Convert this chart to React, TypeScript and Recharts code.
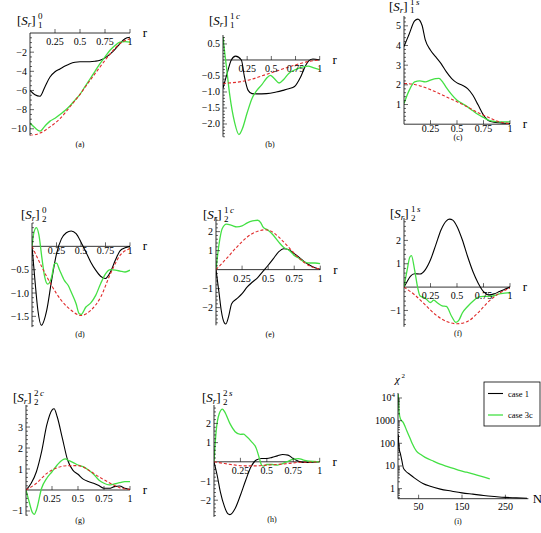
import React from "react";
import { LineChart, Line, XAxis, YAxis, ReferenceLine, ReferenceDot } from "recharts";

const FONT = "'Liberation Serif', 'DejaVu Serif', serif";
const BLACK = "#000000";
const GREEN = "#44e044";
const RED = "#e02a2a";

type Pt = [number, number];

// ---- panel (a) [S_r]_1^0
const aCase1: Pt[] = [[0, -6.0], [0.05, -6.45], [0.1, -6.6], [0.15, -5.6], [0.2, -4.6], [0.25, -4.05], [0.3, -3.75], [0.35, -3.45], [0.4, -3.2], [0.45, -3.05], [0.5, -3.0], [0.55, -3.0], [0.6, -3.0], [0.65, -2.95], [0.7, -2.85], [0.75, -2.6], [0.8, -2.2], [0.85, -1.7], [0.9, -1.1], [0.95, -0.6], [1, -0.45]];
const aCase3c: Pt[] = [[0, -9.4], [0.05, -9.9], [0.1, -10.25], [0.15, -9.7], [0.2, -9.2], [0.25, -8.9], [0.3, -8.5], [0.35, -8.1], [0.4, -7.6], [0.45, -7.0], [0.5, -6.4], [0.55, -5.6], [0.6, -4.8], [0.65, -4.0], [0.7, -3.2], [0.75, -2.5], [0.8, -1.8], [0.85, -1.3], [0.9, -0.95], [0.95, -0.9], [1, -0.95]];
const aModel: Pt[] = [[0, -10.7], [0.1, -10.45], [0.2, -9.8], [0.3, -8.95], [0.4, -7.7], [0.5, -6.4], [0.6, -4.95], [0.7, -3.55], [0.8, -2.2], [0.9, -1.1], [1, -0.6]];

// ---- panel (b) [S_r]_1^{1c}
const bCase1: Pt[] = [[0, -0.88], [0.04, -0.45], [0.086, 0], [0.13, 0.12], [0.19, 0], [0.22, -0.5], [0.26, -0.95], [0.3, -1.05], [0.35, -1.06], [0.45, -1.05], [0.55, -1.0], [0.62, -0.95], [0.68, -0.9], [0.74, -0.83], [0.8, -0.55], [0.85, -0.2], [0.89, -0.02], [0.93, 0.03], [1, 0]];
const bCase3c: Pt[] = [[0, 0.72], [0.015, 0.3], [0.035, -0.2], [0.07, -1.1], [0.12, -1.95], [0.165, -2.33], [0.2, -2.15], [0.25, -1.65], [0.3, -1.2], [0.35, -0.95], [0.4, -0.78], [0.45, -0.57], [0.49, -0.48], [0.53, -0.58], [0.58, -0.72], [0.63, -0.6], [0.68, -0.42], [0.75, -0.3], [0.82, -0.22], [0.88, -0.19], [0.94, -0.25], [1, -0.3]];
const bModel: Pt[] = [[0, -0.73], [0.1, -0.71], [0.2, -0.67], [0.3, -0.6], [0.4, -0.5], [0.5, -0.4], [0.6, -0.3], [0.7, -0.2], [0.8, -0.11], [0.9, -0.04], [1, 0]];

// ---- panel (c) [S_r]_1^{1s}
const cCase1: Pt[] = [[0, 3.95], [0.05, 4.6], [0.1, 5.25], [0.13, 5.34], [0.17, 5.03], [0.2, 4.3], [0.25, 3.76], [0.3, 3.42], [0.35, 3.08], [0.4, 2.66], [0.45, 2.32], [0.5, 2.1], [0.55, 1.98], [0.6, 1.81], [0.65, 1.47], [0.7, 0.97], [0.75, 0.46], [0.8, 0.17], [0.85, 0.1], [0.9, 0.07], [0.95, 0.05], [1, 0.03]];
const cCase3c: Pt[] = [[0, 1.05], [0.05, 1.73], [0.1, 2.15], [0.15, 2.2], [0.2, 2.15], [0.25, 2.24], [0.3, 2.32], [0.33, 2.33], [0.37, 2.1], [0.4, 1.86], [0.45, 1.5], [0.5, 1.22], [0.55, 1.05], [0.6, 0.88], [0.65, 0.68], [0.7, 0.49], [0.75, 0.34], [0.8, 0.2], [0.85, 0.14], [0.9, 0.12], [0.95, 0.12], [1, 0.12]];
const cModel: Pt[] = [[0, 2.07], [0.1, 2.02], [0.2, 1.86], [0.3, 1.64], [0.4, 1.39], [0.5, 1.14], [0.6, 0.88], [0.7, 0.58], [0.8, 0.34], [0.9, 0.12], [1, 0.03]];

// ---- panel (d) [S_r]_2^0
const dCase1: Pt[] = [[0, 0], [0.03, -0.73], [0.06, -1.37], [0.095, -1.69], [0.15, -1.37], [0.2, -0.73], [0.25, -0.16], [0.3, 0.16], [0.35, 0.29], [0.4, 0.33], [0.45, 0.27], [0.5, 0.09], [0.55, -0.12], [0.6, -0.34], [0.65, -0.51], [0.7, -0.64], [0.75, -0.69], [0.8, -0.55], [0.85, -0.3], [0.9, -0.09], [0.95, -0.03], [1, 0]];
const dCase3c: Pt[] = [[0, 0.0], [0.02, 0.3], [0.045, 0.4], [0.07, 0.25], [0.1, -0.23], [0.13, -0.66], [0.16, -0.81], [0.2, -0.66], [0.23, -0.37], [0.25, -0.36], [0.28, -0.5], [0.33, -0.73], [0.37, -0.84], [0.4, -0.98], [0.45, -1.23], [0.48, -1.44], [0.5, -1.46], [0.55, -1.3], [0.6, -1.21], [0.65, -1.05], [0.7, -0.8], [0.75, -0.59], [0.8, -0.5], [0.85, -0.51], [0.9, -0.53], [0.95, -0.55], [1, -0.51]];
const dModel: Pt[] = [[0, 0], [0.1, -0.44], [0.2, -0.84], [0.3, -1.16], [0.4, -1.37], [0.5, -1.48], [0.6, -1.37], [0.7, -1.09], [0.8, -0.59], [0.9, -0.19], [1, -0.05]];

// ---- panel (e) [S_r]_2^{1c}
const eCase1: Pt[] = [[0, 0], [0.03, -1.26], [0.05, -2.14], [0.08, -2.8], [0.095, -2.86], [0.12, -2.49], [0.15, -1.79], [0.2, -1.53], [0.25, -1.26], [0.3, -0.91], [0.35, -0.65], [0.4, -0.42], [0.45, -0.09], [0.5, 0.23], [0.55, 0.58], [0.6, 0.93], [0.65, 1.1], [0.7, 1.05], [0.75, 0.84], [0.8, 0.63], [0.85, 0.4], [0.9, 0.23], [0.95, 0.1], [1, 0.02]];
const eCase3c: Pt[] = [[0, 0], [0.03, 1.37], [0.06, 2.16], [0.1, 2.39], [0.15, 2.33], [0.2, 2.25], [0.25, 2.3], [0.3, 2.46], [0.35, 2.56], [0.4, 2.6], [0.43, 2.46], [0.45, 2.25], [0.5, 2.07], [0.55, 1.81], [0.6, 1.46], [0.65, 1.16], [0.7, 1.02], [0.75, 0.75], [0.8, 0.58], [0.85, 0.4], [0.9, 0.35], [0.95, 0.35], [1, 0.32]];
const eModel: Pt[] = [[0, 0], [0.1, 0.58], [0.2, 1.19], [0.3, 1.72], [0.4, 2.02], [0.47, 2.1], [0.55, 1.95], [0.6, 1.72], [0.7, 1.16], [0.8, 0.58], [0.9, 0.19], [1, 0.02]];

// ---- panel (f) [S_r]_2^{1s}
const fCase1: Pt[] = [[0, 0], [0.03, 0.24], [0.06, 0.46], [0.1, 0.57], [0.15, 0.56], [0.2, 0.74], [0.25, 1.17], [0.3, 1.81], [0.35, 2.46], [0.4, 2.84], [0.43, 2.91], [0.46, 2.87], [0.5, 2.6], [0.55, 2.03], [0.6, 1.31], [0.65, 0.67], [0.7, 0.17], [0.75, -0.19], [0.8, -0.33], [0.85, -0.29], [0.9, -0.19], [0.95, -0.09], [1, 0]];
const fCase3c: Pt[] = [[0, 0], [0.03, 0.74], [0.055, 1.29], [0.07, 1.35], [0.1, 0.74], [0.13, -0.04], [0.15, -0.37], [0.2, -0.47], [0.25, -0.66], [0.28, -0.56], [0.32, -0.69], [0.36, -0.8], [0.4, -0.83], [0.45, -1.26], [0.49, -1.51], [0.52, -1.4], [0.55, -1.11], [0.6, -0.83], [0.65, -0.61], [0.7, -0.43], [0.75, -0.4], [0.8, -0.4], [0.85, -0.37], [0.9, -0.29], [0.95, -0.26], [1, -0.23]];
const fModel: Pt[] = [[0, 0], [0.1, -0.33], [0.2, -0.76], [0.3, -1.19], [0.4, -1.47], [0.5, -1.57], [0.6, -1.47], [0.7, -1.09], [0.8, -0.61], [0.9, -0.26], [1, -0.04]];

// ---- panel (g) [S_r]_2^{2c}
const gCase1: Pt[] = [[0, 0], [0.05, 0.32], [0.1, 0.87], [0.15, 1.83], [0.2, 3.1], [0.25, 3.81], [0.27, 3.87], [0.3, 3.49], [0.35, 2.46], [0.4, 1.43], [0.45, 0.95], [0.5, 0.75], [0.55, 0.52], [0.6, 0.4], [0.65, 0.32], [0.7, 0.21], [0.75, 0.08], [0.8, 0.08], [0.85, 0.16], [0.9, 0.19], [0.95, 0.08], [1, 0.02]];
const gCase3c: Pt[] = [[0, 0], [0.03, -0.56], [0.06, -1.06], [0.08, -1.16], [0.1, -0.95], [0.15, 0.08], [0.2, 0.56], [0.25, 0.87], [0.3, 1.19], [0.35, 1.43], [0.38, 1.48], [0.4, 1.43], [0.45, 1.32], [0.5, 1.19], [0.55, 1.11], [0.6, 0.95], [0.65, 0.75], [0.7, 0.48], [0.75, 0.32], [0.8, 0.24], [0.85, 0.29], [0.9, 0.35], [0.95, 0.4], [1, 0.4]];
const gModel: Pt[] = [[0, 0], [0.1, 0.32], [0.2, 0.79], [0.3, 1.06], [0.4, 1.16], [0.5, 1.16], [0.6, 0.95], [0.7, 0.63], [0.8, 0.35], [0.9, 0.11], [1, 0.03]];

// ---- panel (h) [S_r]_2^{2s}
const hCase1: Pt[] = [[0, 0], [0.03, -0.7], [0.06, -1.57], [0.1, -2.35], [0.13, -2.7], [0.15, -2.75], [0.2, -2.43], [0.25, -1.74], [0.3, -0.96], [0.35, -0.26], [0.4, 0.09], [0.45, 0.17], [0.5, 0.17], [0.55, 0.23], [0.6, 0.31], [0.65, 0.38], [0.7, 0.35], [0.75, 0.17], [0.8, 0.03], [0.85, -0.03], [0.9, -0.03], [1, 0]];
const hCase3c: Pt[] = [[0, 0], [0.02, 1.57], [0.05, 2.52], [0.08, 2.75], [0.1, 2.61], [0.15, 2.0], [0.2, 1.57], [0.25, 1.43], [0.28, 1.44], [0.3, 1.36], [0.35, 1.08], [0.4, 0.7], [0.43, 0.17], [0.45, -0.17], [0.47, -0.23], [0.5, -0.14], [0.55, -0.14], [0.6, -0.17], [0.65, -0.09], [0.7, 0.03], [0.75, 0.14], [0.8, 0.17], [0.85, 0.09], [0.9, 0.03], [1, 0]];
const hModel: Pt[] = [[0, 0], [0.1, -0.09], [0.2, -0.17], [0.3, -0.21], [0.4, -0.21], [0.5, -0.17], [0.6, -0.14], [0.7, -0.09], [0.8, -0.03], [0.9, -0.02], [1, 0]];

// ---- panel (i) chi^2 vs N
const iCase1: Pt[] = [[3, 250], [5, 60], [8, 35], [12, 15], [15, 8], [20, 6], [30, 4.2], [40, 3], [50, 2.2], [60, 1.7], [75, 1.3], [100, 0.95], [125, 0.78], [150, 0.65], [175, 0.57], [200, 0.5], [225, 0.45], [250, 0.41], [275, 0.39], [300, 0.37]];
const iCase3c: Pt[] = [[3, 15000], [5, 2500], [8, 1200], [15, 800], [23, 350], [30, 170], [35, 100], [45, 45], [55, 32], [65, 24], [85, 16], [100, 12], [115, 9.7], [130, 7.8], [146, 6.2], [160, 5.3], [177, 4.4], [195, 3.5], [214, 2.7]];

const rTicks = [0.25, 0.5, 0.75, 1];
const nTicks = [50, 150, 250];
const chiTicks = [1, 10, 100, 1000, 10000];

const Y_W = 34;
const M_T = 8;
const M_R = 26;
const M_B = 18;

const toRows = (pts: Pt[]) => pts.map(([x, v]) => ({ x, v }));

const minus = (v: number, d: number) => (v < 0 ? "\u2212" : "") + Math.abs(v).toFixed(d);

function minorTicks(domain: [number, number], step: number, major: number[]) {
  const out: number[] = [];
  const start = Math.ceil(domain[0] / step - 1e-9);
  const end = Math.floor(domain[1] / step + 1e-9);
  for (let k = start; k <= end; k++) {
    const v = Math.round(k * step * 1000) / 1000;
    if (v !== 0 && !major.some((m) => Math.abs(m - v) < 1e-6)) out.push(v);
  }
  return out;
}

function logMinor(domain: [number, number]) {
  const out: number[] = [];
  for (let d = -1; d <= 4; d++) {
    for (let k = 2; k <= 9; k++) {
      const v = k * Math.pow(10, d);
      if (v > domain[0] && v < domain[1]) out.push(v);
    }
  }
  return out;
}

interface PanelProps {
  axisX: number;
  plotTop: number;
  plotW: number;
  plotH: number;
  xDomain: [number, number];
  yDomain: [number, number];
  yMajor: number[];
  yMinor: number[];
  yFmt: (v: number) => React.ReactNode;
  xMajor: number[];
  xAxisAt: number;
  xLabelDy: number;
  axisName: string;
  nameDx: number;
  log?: boolean;
  case1: Pt[];
  case3c: Pt[];
  model?: Pt[];
}

function Panel(p: PanelProps) {
  const width = Y_W + p.plotW + M_R;
  const height = M_T + p.plotH + M_B;
  const yTick = (t: any) => {
    const v = t.payload.value;
    const isMajor = p.yMajor.some((m) => Math.abs(m - v) < 1e-9);
    return (
      <g>
        <line x1={Y_W} x2={Y_W + (isMajor ? 4 : 2)} y1={t.y} y2={t.y} stroke="#000" strokeWidth={0.6} />
        {isMajor && (
          <text x={Y_W - 3} y={t.y + 3.5} textAnchor="end" fontSize={10} fontFamily={FONT} fill="#000">
            {p.yFmt(v)}
          </text>
        )}
      </g>
    );
  };
  return (
    <div style={{ position: "absolute", left: p.axisX - Y_W, top: p.plotTop - M_T }}>
      <LineChart width={width} height={height} margin={{ top: M_T, right: M_R, bottom: M_B, left: 0 }}>
        <XAxis type="number" dataKey="x" domain={p.xDomain} allowDataOverflow hide />
        <YAxis
          type="number"
          width={Y_W}
          domain={p.yDomain}
          scale={p.log ? "log" : "auto"}
          allowDataOverflow
          ticks={[...p.yMajor, ...p.yMinor]}
          interval={0}
          tick={yTick}
          tickLine={false}
          axisLine={{ stroke: "#000", strokeWidth: 0.8 }}
        />
        <ReferenceLine y={p.xAxisAt} stroke="#000" strokeWidth={0.8} />
        {p.xMajor.map((t) => (
          <ReferenceDot
            key={t}
            x={t}
            y={p.xAxisAt}
            r={0}
            shape={(s: any) => (
              <g>
                <line x1={s.cx} x2={s.cx} y1={s.cy} y2={s.cy - 4} stroke="#000" strokeWidth={0.6} />
                <text x={s.cx} y={s.cy + p.xLabelDy} textAnchor="middle" fontSize={10} fontFamily={FONT} fill="#000">
                  {String(t)}
                </text>
              </g>
            )}
          />
        ))}
        <ReferenceDot
          x={p.xDomain[1]}
          y={p.xAxisAt}
          r={0}
          shape={(s: any) => (
            <text x={s.cx + p.nameDx} y={s.cy + 4} textAnchor="middle" fontSize={13} fontFamily={FONT} fill="#000">
              {p.axisName}
            </text>
          )}
        />
        <Line data={toRows(p.case1)} dataKey="v" type="monotone" stroke={BLACK} strokeWidth={1.1} dot={false} isAnimationActive={false} />
        <Line data={toRows(p.case3c)} dataKey="v" type="monotone" stroke={GREEN} strokeWidth={1.3} dot={false} isAnimationActive={false} />
        {p.model && (
          <Line data={toRows(p.model)} dataKey="v" type="monotone" stroke={RED} strokeWidth={1.1} strokeDasharray="3 2" dot={false} isAnimationActive={false} />
        )}
      </LineChart>
    </div>
  );
}

function Title({ x, y, sub, sup }: { x: number; y: number; sub: string; sup: React.ReactNode }) {
  return (
    <g fontFamily={FONT} fill="#000">
      <text x={x} y={y} fontSize={13}>
        [<tspan fontStyle="italic">S</tspan>
        <tspan fontSize={9} fontStyle="italic" dy={2}>r</tspan>
        <tspan dy={-2}>]</tspan>
      </text>
      <text x={x + 21} y={y - 6} fontSize={9}>{sup}</text>
      <text x={x + 21} y={y + 2.5} fontSize={9}>{sub}</text>
    </g>
  );
}

const letter = (x: number, y: number, s: string) => (
  <text x={x} y={y} textAnchor="middle" fontSize={8} fontFamily={FONT} fill="#000">{s}</text>
);

const sup = (n: string, c: string) => (
  <>
    {n}
    <tspan fontStyle="italic" dx={1.5}>{c}</tspan>
  </>
);

export default function App() {
  const aDom: [number, number] = [-10.7, 0];
  const aMaj = [-10, -8, -6, -4, -2];
  const bDom: [number, number] = [-2.4, 0.78];
  const bMaj = [-2, -1.5, -1, -0.5, 0.5];
  const cDom: [number, number] = [0, 5.5];
  const cMaj = [1, 2, 3, 4, 5];
  const dDom: [number, number] = [-1.73, 0.5];
  const dMaj = [-1.5, -1, -0.5];
  const eDom: [number, number] = [-2.93, 2.77];
  const eMaj = [-2, -1, 1, 2];
  const fDom: [number, number] = [-1.7, 2.96];
  const fMaj = [-1, 1, 2];
  const gDom: [number, number] = [-1.22, 4.05];
  const gMaj = [-1, 1, 2, 3];
  const hDom: [number, number] = [-2.87, 2.96];
  const hMaj = [-2, -1, 1, 2];
  const iDom: [number, number] = [0.36, 16600];

  const common = { xDomain: [0, 1] as [number, number], xMajor: rTicks, xAxisAt: 0, axisName: "r", nameDx: 15 };

  return (
    <div style={{ position: "absolute", left: 0, top: 0, width: 541, height: 533, overflow: "hidden", background: "#fff" }}>
      <Panel {...common} axisX={30} plotTop={32.5} plotW={100} plotH={102.5} yDomain={aDom} yMajor={aMaj} yMinor={minorTicks(aDom, 0.5, aMaj)} yFmt={(v) => minus(v, 0)} xLabelDy={12} case1={aCase1} case3c={aCase3c} model={aModel} />
      <Panel {...common} axisX={223.3} plotTop={35} plotW={96.7} plotH={101.8} yDomain={bDom} yMajor={bMaj} yMinor={minorTicks(bDom, 0.1, bMaj)} yFmt={(v) => minus(v, 1)} xLabelDy={12} case1={bCase1} case3c={bCase3c} model={bModel} />
      <Panel {...common} axisX={404.3} plotTop={15.8} plotW={106} plotH={108.2} yDomain={cDom} yMajor={cMaj} yMinor={minorTicks(cDom, 0.2, cMaj)} yFmt={(v) => minus(v, 0)} xLabelDy={7.5} case1={cCase1} case3c={cCase3c} model={cModel} />
      <Panel {...common} axisX={32} plotTop={222.7} plotW={98} plotH={104.1} yDomain={dDom} yMajor={dMaj} yMinor={minorTicks(dDom, 0.1, dMaj)} yFmt={(v) => minus(v, 1)} xLabelDy={8} case1={dCase1} case3c={dCase3c} model={dModel} />
      <Panel {...common} axisX={215.7} plotTop={216.7} plotW={104.3} plotH={108.3} yDomain={eDom} yMajor={eMaj} yMinor={minorTicks(eDom, 0.2, eMaj)} yFmt={(v) => minus(v, 0)} xLabelDy={12} case1={eCase1} case3c={eCase3c} model={eModel} />
      <Panel {...common} axisX={404.3} plotTop={218.2} plotW={106} plotH={108.8} yDomain={fDom} yMajor={fMaj} yMinor={minorTicks(fDom, 0.2, fMaj)} yFmt={(v) => minus(v, 0)} xLabelDy={12} case1={fCase1} case3c={fCase3c} model={fModel} />
      <Panel {...common} axisX={26} plotTop={405} plotW={104} plotH={110.6} yDomain={gDom} yMajor={gMaj} yMinor={minorTicks(gDom, 0.2, gMaj)} yFmt={(v) => minus(v, 0)} xLabelDy={12} case1={gCase1} case3c={gCase3c} model={gModel} />
      <Panel {...common} axisX={214.3} plotTop={404.9} plotW={105.7} plotH={111.9} yDomain={hDom} yMajor={hMaj} yMinor={minorTicks(hDom, 0.2, hMaj)} yFmt={(v) => minus(v, 0)} xLabelDy={12} case1={hCase1} case3c={hCase3c} model={hModel} />
      <Panel
        axisX={397.7}
        plotTop={393.3}
        plotW={130.4}
        plotH={105.7}
        xDomain={[2.5, 303]}
        yDomain={iDom}
        log
        yMajor={chiTicks}
        yMinor={logMinor(iDom)}
        yFmt={(v) =>
          v === 10000 ? (
            <>
              10<tspan dy={-4} fontSize={7}>4</tspan>
            </>
          ) : (
            String(v)
          )
        }
        xMajor={nTicks}
        xAxisAt={0.36}
        xLabelDy={11}
        axisName="N"
        nameDx={9}
        case1={iCase1}
        case3c={iCase3c}
      />
      <svg width={541} height={533} style={{ position: "absolute", left: 0, top: 0, pointerEvents: "none" }}>
        <Title x={17} y={25} sub="1" sup="0" />
        <Title x={209} y={25} sub="1" sup={sup("1", "c")} />
        <Title x={389} y={10.5} sub="1" sup={sup("1", "s")} />
        <Title x={21} y={219} sub="2" sup="0" />
        <Title x={203} y={219} sub="2" sup={sup("1", "c")} />
        <Title x={390} y={218} sub="2" sup={sup("1", "s")} />
        <Title x={13} y={402} sub="2" sup={sup("2", "c")} />
        <Title x={202} y={402} sub="2" sup={sup("2", "s")} />
        <text x={395} y={383} fontSize={11} fontStyle="italic" fontFamily={FONT}>χ</text>
        <text x={401.5} y={378} fontSize={7} fontFamily={FONT}>2</text>
        {letter(80, 147, "(a)")}
        {letter(270, 147, "(b)")}
        {letter(458, 139.5, "(c)")}
        {letter(80, 337, "(d)")}
        {letter(270, 337, "(e)")}
        {letter(458, 336, "(f)")}
        {letter(80, 523, "(g)")}
        {letter(272, 522, "(h)")}
        {letter(458, 524, "(i)")}
        <rect x={484} y={382} width={56} height={44} fill="#fff" stroke="#000" strokeWidth={0.8} />
        <line x1={488} x2={503} y1={393.5} y2={393.5} stroke={BLACK} strokeWidth={1.1} />
        <text x={508} y={396.5} fontSize={8.5} fontFamily={FONT}>case 1</text>
        <line x1={488} x2={503} y1={415} y2={415} stroke={GREEN} strokeWidth={1.3} />
        <text x={508} y={418} fontSize={8.5} fontFamily={FONT}>case 3c</text>
      </svg>
    </div>
  );
}
